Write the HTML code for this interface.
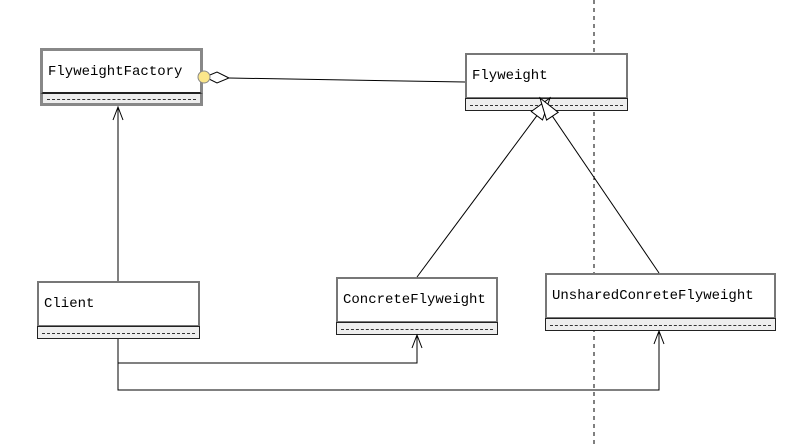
<!DOCTYPE html>
<html><head><style>
body{margin:0;background:#fff;width:809px;height:444px;overflow:hidden;position:relative;font-family:"Liberation Mono","Noto Sans CJK SC",monospace;}
.b{position:absolute;box-sizing:border-box;}
.u{border:2px solid #777;background:#fff;font-size:14px;padding-left:5px;display:flex;align-items:center;}
.l{border:1.5px solid #222;background:#eee;}
.l:after{content:"";position:absolute;left:4px;right:4px;top:50%;border-top:1px dashed #333;}
</style></head><body>
<svg width="809" height="444" style="position:absolute;left:0;top:0">
<line x1="594" y1="0" x2="594" y2="444" stroke="#000" stroke-dasharray="4,4"/>
</svg>
<div class="b u" style="left:40px;top:48px;width:163px;height:46px;border:3px solid #888;border-bottom:2px solid #222">FlyweightFactory</div>
<div class="b l" style="left:40px;top:93px;width:163px;height:13px;border:3px solid #888;border-top:1px solid #222"></div>
<div class="b u" style="left:465px;top:53px;width:163px;height:46px">Flyweight</div>
<div class="b l" style="left:465px;top:98px;width:163px;height:13px"></div>
<div class="b u" style="left:37px;top:281px;width:163px;height:46px">Client</div>
<div class="b l" style="left:37px;top:326px;width:163px;height:13px"></div>
<div class="b u" style="left:336px;top:277px;width:162px;height:46px">ConcreteFlyweight</div>
<div class="b l" style="left:336px;top:322px;width:162px;height:13px"></div>
<div class="b u" style="left:545px;top:273px;width:231px;height:46px">UnsharedConreteFlyweight</div>
<div class="b l" style="left:545px;top:318px;width:231px;height:13px"></div>
<svg width="809" height="444" style="position:absolute;left:0;top:0" fill="none" stroke="#000" stroke-width="1">
<line x1="229" y1="78" x2="465" y2="82"/>
<polygon points="205,77 217,72 229,78 217,83" fill="#fff"/>
<circle cx="204" cy="77" r="6" fill="#fbe68a" stroke="#888"/>
<line x1="118" y1="281" x2="118" y2="108"/>
<polyline points="113,120 118,107 123,120"/>
<line x1="417" y1="277" x2="536.9" y2="115.7"/>
<line x1="659" y1="273" x2="552.4" y2="116.2"/>
<polygon points="550,98 542.5,119.9 531.3,111.5" fill="#fff"/>
<polygon points="540,98 558.2,112.3 546.6,120.1" fill="#fff"/>
<polyline points="118,339 118,390 659,390 659,332"/>
<polyline points="118,363 417,363 417,336"/>
<polyline points="412,348 417,335 422,348"/>
<polyline points="654,344 659,331 664,344"/>
</svg>
</body></html>
